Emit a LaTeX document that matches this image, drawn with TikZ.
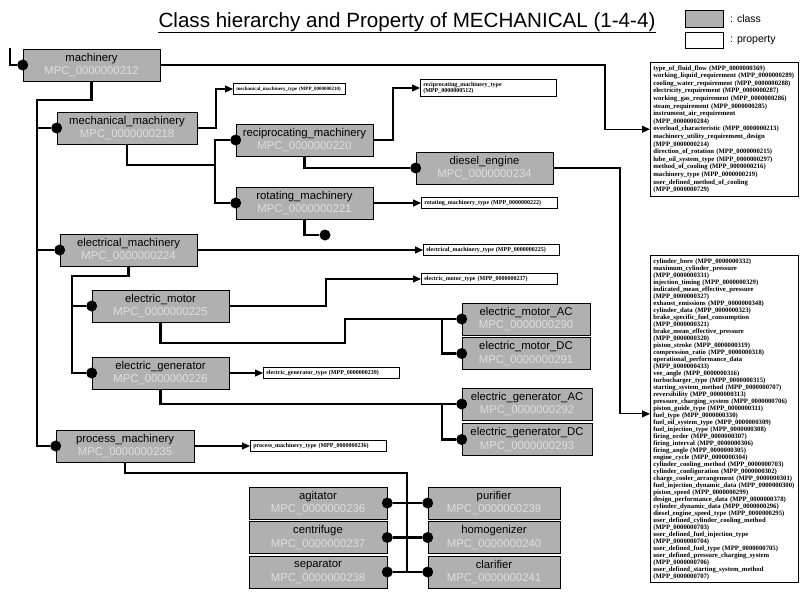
\documentclass[tikz,border=0pt]{standalone}
\usepackage{fontspec}
\setmainfont{Liberation Serif}
\setsansfont{Liberation Sans}
\usepackage{tikz}
\usetikzlibrary{arrows.meta}
\definecolor{clsgray}{RGB}{176,176,176}
\definecolor{idgray}{RGB}{222,222,222}

\begin{document}
\begin{tikzpicture}[
    x=1pt, y=-1pt,
    classbox/.style={draw, line width=0.6pt, fill=clsgray, minimum width=137pt, minimum height=32pt, inner sep=0pt, align=center, font=\sffamily\fontsize{11.3}{13.5}\selectfont},
    propbox/.style={draw, line width=0.6pt, fill=white, anchor=west, minimum height=11pt, text width=130pt, inner xsep=3pt, inner ysep=1.5pt, align=left, font=\bfseries\fontsize{6}{6.6}\selectfont},
    bigprop/.style={draw, line width=0.7pt, anchor=north west, text width=142pt, inner sep=3pt, align=left, font=\bfseries\fontsize{6.7}{7}\selectfont},
    bullet/.style={circle, fill=black, inner sep=0pt, minimum size=11pt},
    hier/.style={line width=2.5pt},
    proparrow/.style={line width=1.1pt, -{Triangle[length=8pt,width=7pt]}}
]
    \useasboundingbox (0,0) rectangle (800,600);

    % title and legend
    \node[anchor=base, inner sep=0pt, font=\sffamily\fontsize{20.6}{24}\selectfont] (title) at (407,27) {Class hierarchy and Property of MECHANICAL (1-4-4)};
    \draw[line width=1.3pt] ([yshift=-1pt]title.south west) -- ([yshift=-1pt]title.south east);
    \node[classbox, minimum width=38pt, minimum height=17pt] (legCls) at (704,18.5) {};
    \node[draw, line width=0.6pt, fill=white, minimum width=38pt, minimum height=16pt] (legProp) at (704,40) {};
    \node[anchor=west, inner sep=0pt, font=\sffamily\fontsize{10.5}{12}\selectfont] (legClsTxt) at (730,18.5) {: class};
    \node[anchor=west, inner sep=0pt, font=\sffamily\fontsize{10.5}{12}\selectfont] (legPropTxt) at (730,40) {: property};

    % classes
    \node[classbox] (mach) at (91.5,65) {machinery\\\textcolor{idgray}{MPC\_0000000212}};
    \node[classbox, minimum width=140pt] (mech) at (127,128) {mechanical\_machinery\\\textcolor{idgray}{MPC\_0000000218}};
    \node[classbox] (recip) at (304.5,140) {reciprocating\_machinery\\\textcolor{idgray}{MPC\_0000000220}};
    \node[classbox] (rot) at (304.5,203) {rotating\_machinery\\\textcolor{idgray}{MPC\_0000000221}};
    \node[classbox] (diesel) at (484.5,168) {diesel\_engine\\\textcolor{idgray}{MPC\_0000000234}};
    \node[classbox] (elec) at (128.5,250) {electrical\_machinery\\\textcolor{idgray}{MPC\_0000000224}};
    \node[classbox] (emot) at (160.5,306) {electric\_motor\\\textcolor{idgray}{MPC\_0000000225}};
    \node[classbox] (egen) at (160.5,373) {electric\_generator\\\textcolor{idgray}{MPC\_0000000226}};
    \node[classbox, minimum width=128pt] (emotAC) at (526,319) {electric\_motor\_AC\\\textcolor{idgray}{MPC\_0000000290}};
    \node[classbox, minimum width=128pt] (emotDC) at (526,353.5) {electric\_motor\_DC\\\textcolor{idgray}{MPC\_0000000291}};
    \node[classbox, minimum width=130pt] (egenAC) at (527,404) {electric\_generator\_AC\\\textcolor{idgray}{MPC\_0000000292}};
    \node[classbox, minimum width=130pt] (egenDC) at (527,439.5) {electric\_generator\_DC\\\textcolor{idgray}{MPC\_0000000293}};
    \node[classbox, minimum width=138pt] (proc) at (125,446) {process\_machinery\\\textcolor{idgray}{MPC\_0000000235}};
    \node[classbox, minimum width=138pt] (agit) at (318,503) {agitator\\\textcolor{idgray}{MPC\_0000000236}};
    \node[classbox, minimum width=138pt] (centr) at (318,537.5) {centrifuge\\\textcolor{idgray}{MPC\_0000000237}};
    \node[classbox, minimum width=138pt] (separ) at (318,572) {separator\\\textcolor{idgray}{MPC\_0000000238}};
    \node[classbox, minimum width=132pt] (purif) at (494,503) {purifier\\\textcolor{idgray}{MPC\_0000000239}};
    \node[classbox, minimum width=132pt] (homog) at (494,537.5) {homogenizer\\\textcolor{idgray}{MPC\_0000000240}};
    \node[classbox, minimum width=132pt] (clar) at (494,572) {clarifier\\\textcolor{idgray}{MPC\_0000000241}};

    % properties
    \node[propbox, text width=106pt, font=\bfseries\fontsize{5}{6}\selectfont] (pMech) at (233,89) {mechanical\_machinery\_type (MPP\_0000000210)};
    \node[propbox, minimum height=17pt] (pRecip) at (420,88) {reciprocating\_machinery\_type\\(MPP\_0000000512)};
    \node[propbox] (pRot) at (421,203) {rotating\_machinery\_type (MPP\_0000000222)};
    \node[propbox] (pElec) at (423,250) {electrical\_machinery\_type (MPP\_0000000225)};
    \node[propbox] (pEmot) at (421,279) {electric\_motor\_type (MPP\_0000000237)};
    \node[propbox] (pEgen) at (263,373) {electric\_generator\_type (MPP\_0000000239)};
    \node[propbox] (pProc) at (250,446) {process\_machinery\_type (MPP\_0000000236)};
    \node[bigprop, font=\bfseries\fontsize{6.7}{7.6}\selectfont] (pMach) at (650,62) {type\_of\_fluid\_flow~(MPP\_0000000369)\\
        working\_liquid\_requirement~(MPP\_0000000289)\\
        cooling\_water\_requirement~(MPP\_0000000288)\\
        electricity\_requirement~(MPP\_0000000287)\\
        working\_gas\_requirement~(MPP\_0000000286)\\
        steam\_requirement~(MPP\_0000000285)\\
        instrument\_air\_requirement\\
        (MPP\_0000000284)\\
        overload\_characteristic~(MPP\_0000000213)\\
        machinery\_utility\_requirement\_design\\
        (MPP\_0000000214)\\
        direction\_of\_rotation~(MPP\_0000000215)\\
        lube\_oil\_system\_type~(MPP\_0000000297)\\
        method\_of\_cooling~(MPP\_0000000216)\\
        machinery\_type~(MPP\_0000000219)\\
        user\_defined\_method\_of\_cooling\\
        (MPP\_0000000729)};
    \node[bigprop] (pDiesel) at (650,255) {cylinder\_bore~(MPP\_0000000332)\\
        maximum\_cylinder\_pressure\\
        (MPP\_0000000331)\\
        injection\_timing~(MPP\_0000000329)\\
        indicated\_mean\_effective\_pressure\\
        (MPP\_0000000327)\\
        exhaust\_emissions~(MPP\_0000000348)\\
        cylinder\_data~(MPP\_0000000323)\\
        brake\_specific\_fuel\_consumption\\
        (MPP\_0000000321)\\
        brake\_mean\_effective\_pressure\\
        (MPP\_0000000320)\\
        piston\_stroke~(MPP\_0000000319)\\
        compression\_ratio~(MPP\_0000000318)\\
        operational\_performance\_data\\
        (MPP\_0000000433)\\
        vee\_angle~(MPP\_0000000316)\\
        turbocharger\_type~(MPP\_0000000315)\\
        starting\_system\_method~(MPP\_0000000707)\\
        reversibility~(MPP\_0000000313)\\
        pressure\_charging\_system~(MPP\_0000000706)\\
        piston\_guide\_type~(MPP\_0000000311)\\
        fuel\_type~(MPP\_0000000330)\\
        fuel\_oil\_system\_type~(MPP\_0000000309)\\
        fuel\_injection\_type~(MPP\_0000000308)\\
        firing\_order~(MPP\_0000000307)\\
        firing\_interval~(MPP\_0000000306)\\
        firing\_angle~(MPP\_0000000305)\\
        engine\_cycle~(MPP\_0000000304)\\
        cylinder\_cooling\_method~(MPP\_0000000703)\\
        cylinder\_configuration~(MPP\_0000000302)\\
        charge\_cooler\_arrangement~(MPP\_0000000301)\\
        fuel\_injection\_dynamic\_data~(MPP\_0000000300)\\
        piston\_speed~(MPP\_0000000299)\\
        design\_performance\_data~(MPP\_0000000378)\\
        cylinder\_dynamic\_data~(MPP\_0000000296)\\
        diesel\_engine\_speed\_type~(MPP\_0000000295)\\
        user\_defined\_cylinder\_cooling\_method\\
        (MPP\_0000000703)\\
        user\_defined\_fuel\_injection\_type\\
        (MPP\_0000000704)\\
        user\_defined\_fuel\_type~(MPP\_0000000705)\\
        user\_defined\_pressure\_charging\_system\\
        (MPP\_0000000706)\\
        user\_defined\_starting\_system\_method\\
        (MPP\_0000000707)};

    % bullets on the class boxes
    \node[bullet] (dMach) at (mach.west) {};
    \node[bullet] (dMech) at (mech.west) {};
    \node[bullet] (dRecip) at (recip.west) {};
    \node[bullet] (dRot) at (rot.west) {};
    \node[bullet] (dDiesel) at (diesel.west) {};
    \node[bullet] (dRotEnd) at (325,235) {};
    \node[bullet] (dElec) at (elec.west) {};
    \node[bullet] (dEmot) at (emot.west) {};
    \node[bullet] (dEgen) at (egen.west) {};
    \node[bullet] (dEmotAC) at (emotAC.west) {};
    \node[bullet] (dEmotDC) at (emotDC.west) {};
    \node[bullet] (dEgenAC) at (egenAC.west) {};
    \node[bullet] (dEgenDC) at (egenDC.west) {};
    \node[bullet] (dProc) at (proc.west) {};
    \node[bullet] (dAgit) at (agit.east) {};
    \node[bullet] (dCentr) at (centr.east) {};
    \node[bullet] (dSepar) at (separ.east) {};
    \node[bullet] (dPurif) at (purif.west) {};
    \node[bullet] (dHomog) at (homog.west) {};
    \node[bullet] (dClar) at (clar.west) {};

    % junctions of the hierarchy
    \coordinate (start) at (10,48);
    \coordinate (trunk) at (37,100);
    \coordinate (mJ) at (215,165);
    \coordinate (eJ) at (72,276);
    \coordinate (emBend) at (345,343);
    \coordinate (emJ) at (442,319);
    \coordinate (egJ) at (442,404);
    \coordinate (pJ) at (407,473);

    \draw[hier] (start) |- (dMach);
    \draw[hier] (mach.south) |- (trunk) |- (dProc);
    \draw[hier] (dMech) -| (trunk);
    \draw[hier] (dElec) -| (trunk);
    \draw[hier] (mech.south) |- (mJ);
    \draw[hier] (dRecip) -| (mJ) |- (dRot);
    \draw[hier] (recip.south) |- (dDiesel);
    \draw[hier] (rot.south) |- (dRotEnd);
    \draw[hier] (elec.south) |- (eJ) |- (dEgen);
    \draw[hier] (dEmot) -| (eJ);
    \draw[hier] (emot.south) |- (emBend) |- (dEmotAC);
    \draw[hier] (dEmotDC) -| (emJ);
    \draw[hier] (egen.south) |- (dEgenAC);
    \draw[hier] (dEgenDC) -| (egJ);
    \draw[hier] (proc.south) |- (pJ) -- (pJ |- dSepar);
    \draw[hier] (dAgit) -- (dPurif);
    \draw[hier] (dCentr) -- (dHomog);
    \draw[hier] (dSepar) -- (dClar);

    % class to property
    \draw[proparrow] (mach.east) -| ([xshift=-45pt]pMach.west) -- (pMach.west);
    \draw[proparrow] (mech.east) -| ([xshift=-17pt]pMech.west) -- (pMech.west);
    \draw[proparrow] (recip.east) -| ([xshift=-27pt]pRecip.west) -- (pRecip.west);
    \draw[proparrow] (diesel.east) -| ([xshift=-30pt,yshift=5pt]pDiesel.west) -- ([yshift=5pt]pDiesel.west);
    \draw[proparrow] (rot.east) -- (pRot.west);
    \draw[proparrow] (elec.east) -- (pElec.west);
    \draw[proparrow] (emot.east) -| ([xshift=-95pt]pEmot.west) -- (pEmot.west);
    \draw[proparrow] (egen.east) -- (pEgen.west);
    \draw[proparrow] (proc.east) -- (pProc.west);
\end{tikzpicture}
\end{document}
